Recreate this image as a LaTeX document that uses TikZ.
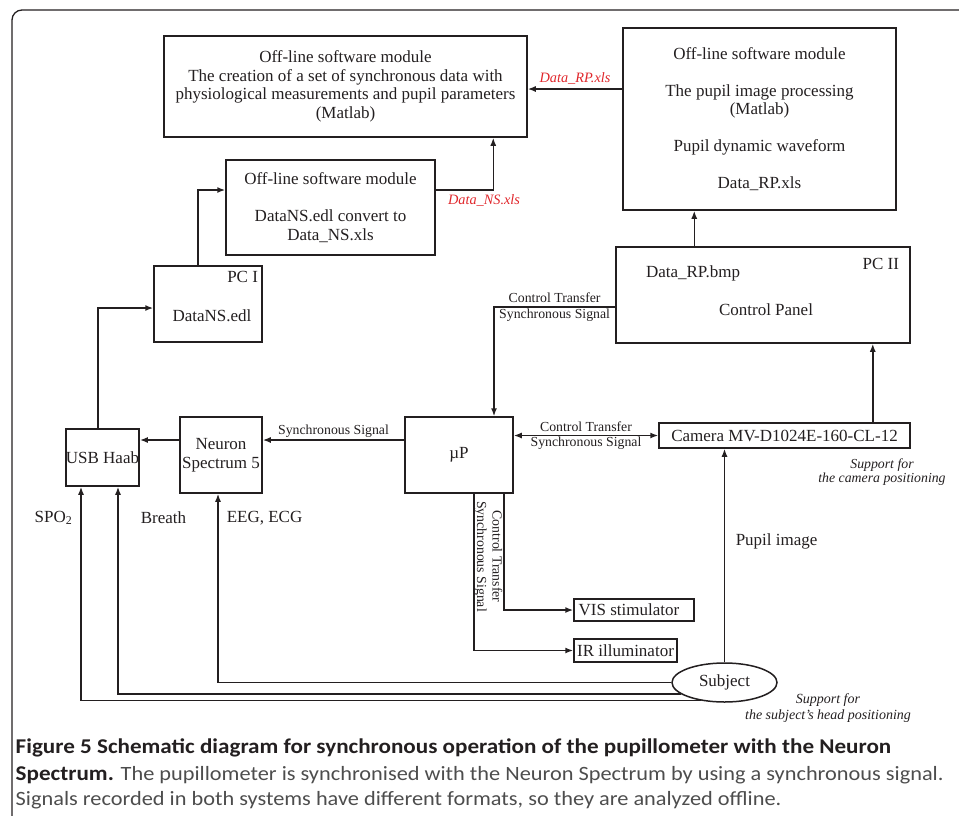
\documentclass[tikz,border=0pt]{standalone}
\usepackage{fontspec}
\setmainfont{Liberation Serif}
\newfontfamily\capfont[FakeStretch=1.1]{Carlito}
\usetikzlibrary{shapes.geometric,arrows.meta}
\definecolor{ln}{HTML}{231F20}
\definecolor{capgray}{HTML}{4D4D4D}
\definecolor{fname}{HTML}{E0262B}

\begin{document}
\begin{tikzpicture}[x=1pt,y=-1pt,->,>={Latex[length=8pt,width=6pt]},line width=1.5pt,color=ln]
\tikzstyle{bx}=[rectangle,draw,inner sep=0pt,align=center,font=\fontsize{17}{18.5}\selectfont]
\tikzstyle{lbl}=[font=\fontsize{17}{18.5}\selectfont,inner sep=1pt]
\tikzstyle{sm}=[font=\fontsize{13.8}{15.5}\selectfont,inner sep=1pt,align=center]
\tikzstyle{fl}=[font=\fontsize{14.3}{15.5}\selectfont\itshape,text=fname,inner sep=1pt]
\tikzstyle{sup}=[font=\itshape,align=center,inner sep=0pt]
\tikzstyle{captxt}=[anchor=west,inner sep=0pt,font=\capfont\fontsize{20.3}{26}\selectfont]
\useasboundingbox (0,0) rectangle (959,815);
\draw[-,line width=1.3pt,rounded corners=10] (12,816) -- (12,10) -- (960,10);

\node[bx, minimum width=363, minimum height=101] (sync) at (345.5,86.5)
  {Off-line software module\\The creation of a set of synchronous data with\\physiological measurements and pupil parameters\\(Matlab)};
\node[bx, minimum width=273, minimum height=182] (rp) at (759.5,119)
  {Off-line software module\\[18.5pt]The pupil image processing\\(Matlab)\\[18.5pt]Pupil dynamic waveform\\[18.5pt]Data\_RP.xls};
\node[bx, minimum width=209, minimum height=95] (ns) at (330.5,207.5)
  {Off-line software module\\[18.5pt]DataNS.edl convert to\\Data\_NS.xls};
\node[bx, minimum width=108, minimum height=76,
  label={[lbl,anchor=north east,xshift=-3,yshift=-4]north east:PC I},
  label={[lbl,xshift=4,yshift=-12]center:DataNS.edl}] (pcI) at (208,304) {};
\node[bx, minimum width=294, minimum height=96,
  label={[lbl,anchor=north east,xshift=-10,yshift=-10]north east:PC II},
  label={[lbl,xshift=-70,yshift=22]center:Data\_RP.bmp},
  label={[lbl,xshift=3,yshift=-15]center:Control Panel}] (pcII) at (763,295) {};
\node[bx, minimum width=108, minimum height=76] (up) at (459,455) {µP};
\node[bx, minimum width=71, minimum height=57] (usb) at (102.5,457.5) {USB Haab};
\node[bx, minimum width=82, minimum height=76] (ns5) at (221,455) {Neuron\\Spectrum 5};
\node[bx, minimum width=251, minimum height=25] (cam) at (784.5,435.5) {Camera MV-D1024E-160-CL-12};
\node[bx, minimum width=120, minimum height=22] (vis) at (634,610) {VIS stimulator\hspace*{10pt}};
\node[bx, minimum width=103, minimum height=23] (ir) at (625.5,650.5) {IR illuminator};
\node[bx, ellipse, minimum width=105, minimum height=39] (subj) at (724.5,682.5) {Subject};

\coordinate (lvA) at (0,440);
\coordinate (lvB) at (0,307);
\coordinate (lvC) at (0,190);
\coordinate (lvD) at (0,89);

\draw (rp.west |- lvD) -- (sync.east |- lvD) node[fl, midway, above=3] {Data\_RP.xls};
\draw ([xshift=79]pcII.north west) -- ([xshift=72]rp.south west);
\draw (ns.east |- lvC) -| ([xshift=330]sync.south west) node[fl, pos=0.42, below=3] {Data\_NS.xls};
\draw ([xshift=-10]pcI.north) |- (ns.west |- lvC);
\draw ([xshift=-4.5]usb.north) |- ([yshift=-4]pcI.west);
\draw (ns5.west |- lvA) -- (usb.east |- lvA);
\draw (up.west |- lvA) -- (ns5.east |- lvA) node[sm, midway, above=1] {Synchronous Signal};
\draw (pcII.west |- lvB) -| ([xshift=35]up.north) node[sm, pos=0.25] {Control Transfer\\Synchronous Signal};
\draw[<->] (cam.west -| up.east) -- (cam.west) node[sm, midway] {Control Transfer\\Synchronous Signal};
\draw ([xshift=45]up.south) |- (vis.west)
  node[sm, pos=0.27, rotate=-90, anchor=north] {Control Transfer\\Synchronous Signal};
\draw ([xshift=15]up.south) |- (ir.west);
\draw (subj.north) -- (subj.north |- cam.south);
\draw ([xshift=-38]cam.north east) -- ([xshift=-38]pcII.south east);
\draw (subj.west) -| ([xshift=-3]ns5.south);
\draw (subj.195) -| ([xshift=15.5]usb.south);
\draw (subj.217) -| ([xshift=-21.5]usb.south);

\node[lbl, anchor=east] (spo) at (74,518) {SPO\textsubscript{2}};
\node[lbl, anchor=west] (breath) at (139,518) {Breath};
\node[lbl, anchor=west] (eeg) at (225,518) {EEG, ECG};
\node[lbl, anchor=west] (pupil) at (734,541) {Pupil image};
\node[sup, font=\fontsize{13.8}{13.6}\selectfont\itshape] (camsup) at (882,472) {Support for\\the camera positioning};
\node[sup, font=\fontsize{14}{16}\selectfont\itshape] (subjsup) at (828,708) {Support for\\the subject's head positioning};

\node[captxt, font=\capfont\fontsize{21}{26}\selectfont\bfseries] (cap1) at (15,748)
  {Figure 5 Schematic diagram for synchronous operation of the pupillometer with the Neuron};
\node[captxt] (cap2) at (15,775)
  {{\fontsize{21}{26}\selectfont\bfseries Spectrum.} \color{capgray}The pupillometer is synchronised with the Neuron Spectrum by using a synchronous signal.};
\node[captxt, text=capgray] (cap3) at (15,800)
  {Signals recorded in both systems have different formats, so they are analyzed offline.};
\end{tikzpicture}
\end{document}
